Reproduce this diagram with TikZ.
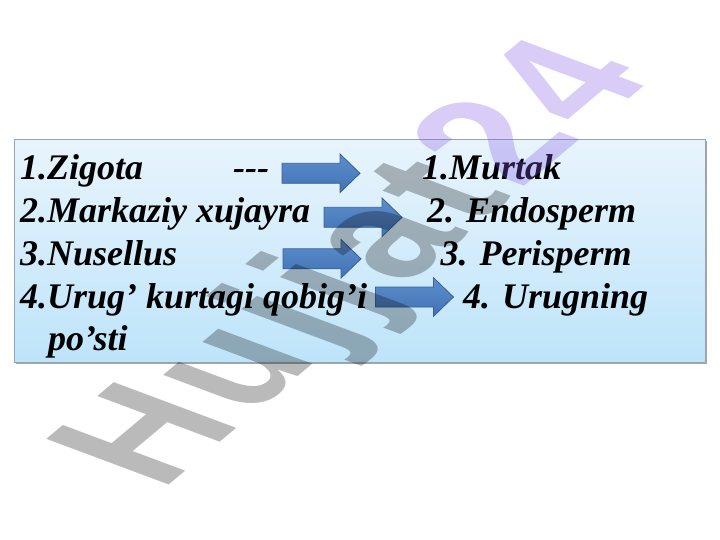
\documentclass[tikz,border=0pt]{standalone}
\usepackage{fontspec}
\setmainfont{Liberation Serif}
\newfontfamily\wmfont{Liberation Sans}
\usetikzlibrary{shadows}
\definecolor{boxtop}{RGB}{232,244,252}
\definecolor{boxbot}{RGB}{190,228,250}
\definecolor{boxline}{RGB}{150,165,180}
\definecolor{arrtop}{RGB}{92,142,205}
\definecolor{arrbot}{RGB}{66,114,180}
\definecolor{arrline}{RGB}{56,96,150}
\definecolor{wmviolet}{RGB}{130,90,230}
\tikzset{
  lbl/.style={anchor=base west, inner sep=0pt, font=\fontsize{36}{43}\selectfont\bfseries\itshape},
  blk/.style={draw=arrline, line width=0.8pt, top color=arrtop, bottom color=arrbot},
  boxstyle/.style={draw=boxline, line width=1pt, top color=boxtop, bottom color=boxbot,
    drop shadow={shadow xshift=1.5pt, shadow yshift=-1.5pt, opacity=0.35, fill=black}},
  wm/.style={anchor=base, inner sep=0pt, font=\wmfont\fontsize{100}{100}\selectfont\bfseries,
    cm={1.149,0.9645,-1.780,0.665,(0,0)}},
  wmg/.style={wm, text=black, text opacity=0.27},
  wmv/.style={wm, text=wmviolet, text opacity=0.3}
}
\newcommand\blkarrow[2]{\path[blk] (#1,#2-10) -- ++(58,0) -- ++(0,-9.3) -- ++(20,19.3) -- ++(-20,19.3) -- ++(0,-9.3) -- ++(-58,0) -- cycle;}
\begin{document}
\begin{tikzpicture}[x=1pt,y=-1pt]
\useasboundingbox (0,0) rectangle (720,540);
\fill[white] (0,0) rectangle (720,540);
% box
\path[boxstyle] (14,140) rectangle (705,362);
% arrows
\blkarrow{282}{173.3}
\blkarrow{324}{217.3}
\blkarrow{283}{258.8}
\blkarrow{375.5}{297}
% left column
\node[lbl] (l1) at (20,180) {1.Zigota};
\node[lbl] (d1) at (233,180) {-{}-{}-};
\node[lbl] (l2) at (20,222.7) {2.Markaziy xujayra};
\node[lbl] (l3) at (20,265.4) {3.Nusellus};
\node[lbl] (l4) at (20,308.1) {4.Urug’ kurtagi qobig’i};
\node[lbl] (l5) at (48,350.8) {po’sti};
% right column
\node[lbl] (r1) at (422,180) {1.Murtak};
\node[lbl] (r2) at (427,222.7) {2. Endosperm};
\node[lbl] (r3) at (440.5,265.4) {3. Perisperm};
\node[lbl] (r4) at (463,308.1) {4. Urugning};
% watermark
\node[wmg] (w1) at (202.7,456.8) {H};
\node[wmg] (w2) at (286.0,386.9) {u};
\node[wmg] (w3) at (343.8,338.4) {j};
\node[wmg] (w4) at (382.4,306.0) {j};
\node[wmg] (w5) at (437.0,260.1) {a};
\node[wmg] (w6) at (494.9,211.6) {t};
\node[wmv] (w7) at (552.7,163.0) {2};
\node[wmv] (w8) at (623.2,103.8) {4};
\end{tikzpicture}
\end{document}
